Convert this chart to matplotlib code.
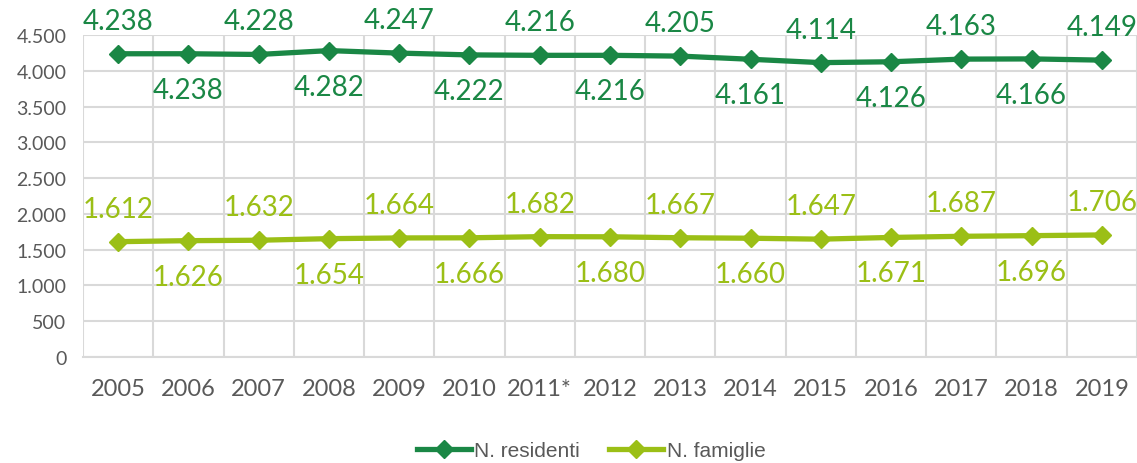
import matplotlib.pyplot as plt
import numpy as np
from matplotlib.ticker import FuncFormatter, MultipleLocator, FixedLocator

anni = ["2005", "2006", "2007", "2008", "2009", "2010", "2011*", "2012",
        "2013", "2014", "2015", "2016", "2017", "2018", "2019"]
residenti = [4238, 4238, 4228, 4282, 4247, 4222, 4216, 4216, 4205, 4161,
             4114, 4126, 4163, 4166, 4149]
famiglie = [1612, 1626, 1632, 1654, 1664, 1666, 1682, 1680, 1667, 1660,
            1647, 1671, 1687, 1696, 1706]

verde = "#1a8745"
lime = "#9bbf16"
grigio = "#595959"

plt.rcParams['font.family'] = ['Lato', 'DejaVu Sans']

fig = plt.figure(figsize=(11.37, 4.64), dpi=100)
ax = fig.add_axes([0.073, 0.2284, 0.927, 0.694])

x = np.arange(len(anni))
ax.plot(x, residenti, color=verde, lw=3.8, marker="D", ms=9, label="N. residenti")
ax.plot(x, famiglie, color=lime, lw=3.8, marker="D", ms=9, label="N. famiglie")

def fmt(v):
    return f"{v:,}".replace(",", ".")

# etichette alternate sopra/sotto
for serie, col in ((residenti, verde), (famiglie, lime)):
    for i, v in enumerate(serie):
        dy = 33 if i % 2 == 0 else -36
        ax.annotate(fmt(v), (i, v), xytext=(0, dy), textcoords="offset pixels",
                    ha="center", va="center", color=col, fontsize=20)

ax.set_xlim(-0.5, len(anni) - 0.5)
ax.set_ylim(0, 4500)
ax.yaxis.set_major_locator(MultipleLocator(500))
ax.yaxis.set_major_formatter(FuncFormatter(lambda v, p: fmt(int(v))))
ax.set_xticks(x)
ax.set_xticklabels(anni)
ax.xaxis.set_minor_locator(FixedLocator(np.arange(-0.5, len(anni), 1)))

ax.grid(axis="y", which="major", color="#d9d9d9", lw=1.5)
ax.grid(axis="x", which="minor", color="#d9d9d9", lw=1.5)
ax.set_axisbelow(True)
for s in ("top", "right", "left"):
    ax.spines[s].set_visible(False)
ax.spines["bottom"].set_color("#d9d9d9")
ax.spines["bottom"].set_linewidth(1.5)
ax.tick_params(axis="both", which="both", length=0, colors=grigio)
ax.tick_params(axis="y", labelsize=14, pad=12)
ax.tick_params(axis="x", labelsize=17, pad=15)

fig.legend(loc="lower center", bbox_to_anchor=(0.52, -0.035), ncol=2, frameon=False,
           labelcolor=grigio, handlelength=2.6, handletextpad=0.15,
           columnspacing=1.4, prop={'family': ['Liberation Sans'], 'size': 15})

fig.savefig("out.png", dpi=100)
